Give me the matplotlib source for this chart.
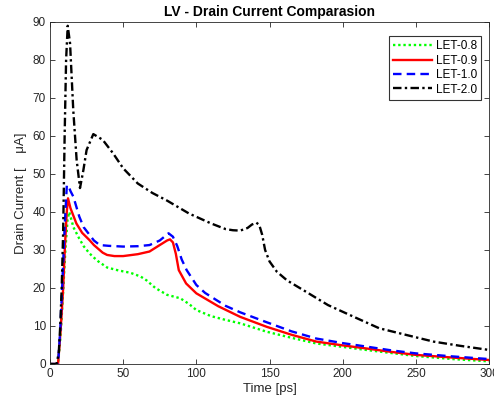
import matplotlib
matplotlib.use("Agg")
import matplotlib.pyplot as plt

plt.rcParams['font.family'] = ['Liberation Sans', 'DejaVu Sans']

# Data (time in ps, current in uA)
t_08 = [0, 4, 5.5, 7.3, 9, 10.5, 12, 13.2, 16, 20, 23, 27, 30, 33, 36, 39, 43, 47, 55, 62, 66, 72, 80, 85, 89,
        95, 100, 110, 120, 130, 148, 165, 182, 200, 216, 233, 250, 275, 300]
i_08 = [0, 0, 0, 8, 19, 30, 38, 40, 36, 33, 31, 29.1, 28, 27, 26.2, 25.4, 25, 24.6, 24, 23, 22, 20, 18.2, 17.7,
        17.3, 15.8, 14.2, 12.6, 11.6, 10.7, 8.5, 6.9, 5.4, 4.5, 3.7, 2.9, 2.1, 1.3, 0.7]

t_09 = [0, 5.5, 7.3, 9, 10.2, 11.4, 12.3, 14, 18, 22, 27, 30, 33, 36, 39, 44, 50, 60, 68, 75, 80, 82, 84, 86,
        88, 93, 100, 115, 130, 148, 165, 182, 200, 216, 233, 250, 275, 300]
i_09 = [0, 0, 9, 20, 31, 39.7, 43.6, 41, 37, 34.5, 32.6, 31.3, 30.3, 29.3, 28.7, 28.4, 28.4, 28.9, 29.6, 31.3,
        32.5, 32.8, 32, 29, 24.7, 21.2, 18.6, 15.2, 12.4, 9.8, 7.7, 5.9, 4.9, 4.1, 3.2, 2.4, 1.7, 1.05]

t_10 = [0, 5.5, 7, 8.5, 10, 11.5, 12.5, 14, 16, 20, 23, 27, 30, 34, 40, 50, 60, 68, 75, 81, 84, 87, 90, 93.4,
        100, 106, 120, 130, 148, 165, 182, 200, 216, 233, 250, 275, 300]
i_10 = [0, 0, 9, 22, 36, 47, 47, 45.5, 44, 38.8, 36, 34, 32.5, 31.3, 31.1, 30.9, 31, 31.3, 32.5, 34.4, 33.5, 31,
        27.5, 24.7, 20.8, 18.7, 15.3, 13.6, 11, 8.6, 6.7, 5.5, 4.6, 3.6, 2.8, 2, 1.3]

t_20 = [0, 4.5, 6, 7, 8, 9, 10, 11, 12.1, 13.7, 15.9, 18.2, 20.5, 22.8, 25, 29.6, 36, 43, 50, 60, 70, 80, 95,
        110, 120, 125, 130, 135, 138, 141, 143, 145, 147, 150, 155, 162, 175, 190, 210, 225, 245, 262, 280, 300]
i_20 = [0, 0, 3, 10, 20, 35, 60, 80, 89, 84.4, 66.8, 53.7, 46.3, 51, 56.3, 60.5, 59, 55.5, 51.5, 47.5, 45, 43,
        39.6, 37, 35.5, 35.2, 35.1, 35.8, 36.7, 37.2, 36.6, 34, 30, 27, 24.3, 22, 19, 15.5, 12, 9.4, 7.5, 5.9,
        4.8, 3.7]

labels = ['LET-0.8', 'LET-0.9', 'LET-1.0', 'LET-2.0']
x_ticks = [0, 50, 100, 150, 200, 250, 300]
y_ticks = [0, 10, 20, 30, 40, 50, 60, 70, 80, 90]

fig = plt.figure(figsize=(4.94, 4.08), dpi=100)
ax = fig.add_axes([50 / 494, 44 / 408, 439 / 494, 342 / 408])

lw = 1.7
ax.plot(t_08, i_08, color=(0, 1, 0), lw=lw, dashes=(1, 1.2), label=labels[0])
ax.plot(t_09, i_09, color=(1, 0, 0), lw=lw, label=labels[1])
ax.plot(t_10, i_10, color=(0, 0, 1), lw=lw, dashes=(3.6, 2.2), label=labels[2])
ax.plot(t_20, i_20, color='black', lw=lw, dashes=(3.6, 1.4, 1, 1.4), label=labels[3])

ax.set_xlim(0, 300)
ax.set_ylim(0, 90)
ax.set_xticks(x_ticks)
ax.set_yticks(y_ticks)
axc = '#262626'
ax.tick_params(direction='in', top=True, right=True, length=3.5, width=0.6, colors=axc,
               labelsize=8.5, labelcolor=axc, pad=3)
for s in ax.spines.values():
    s.set_color(axc)
    s.set_linewidth(0.6)

ax.set_title('LV - Drain Current Comparasion', fontsize=10, fontweight='bold', pad=4)
ax.set_xlabel('Time [ps]', fontsize=9.5, color=axc, labelpad=2)
ax.set_ylabel('Drain Current [    \u03bcA]', fontsize=9.5, color=axc, labelpad=4)

leg = ax.legend(loc='upper right', bbox_to_anchor=(0.982, 0.958), fontsize=8.5, frameon=True, fancybox=False,
                edgecolor='black', handlelength=3.3, handletextpad=0.3, borderpad=0.35, labelspacing=0.2,
                borderaxespad=0)
leg.get_frame().set_linewidth(0.8)

fig.savefig('out.png', dpi=100)
